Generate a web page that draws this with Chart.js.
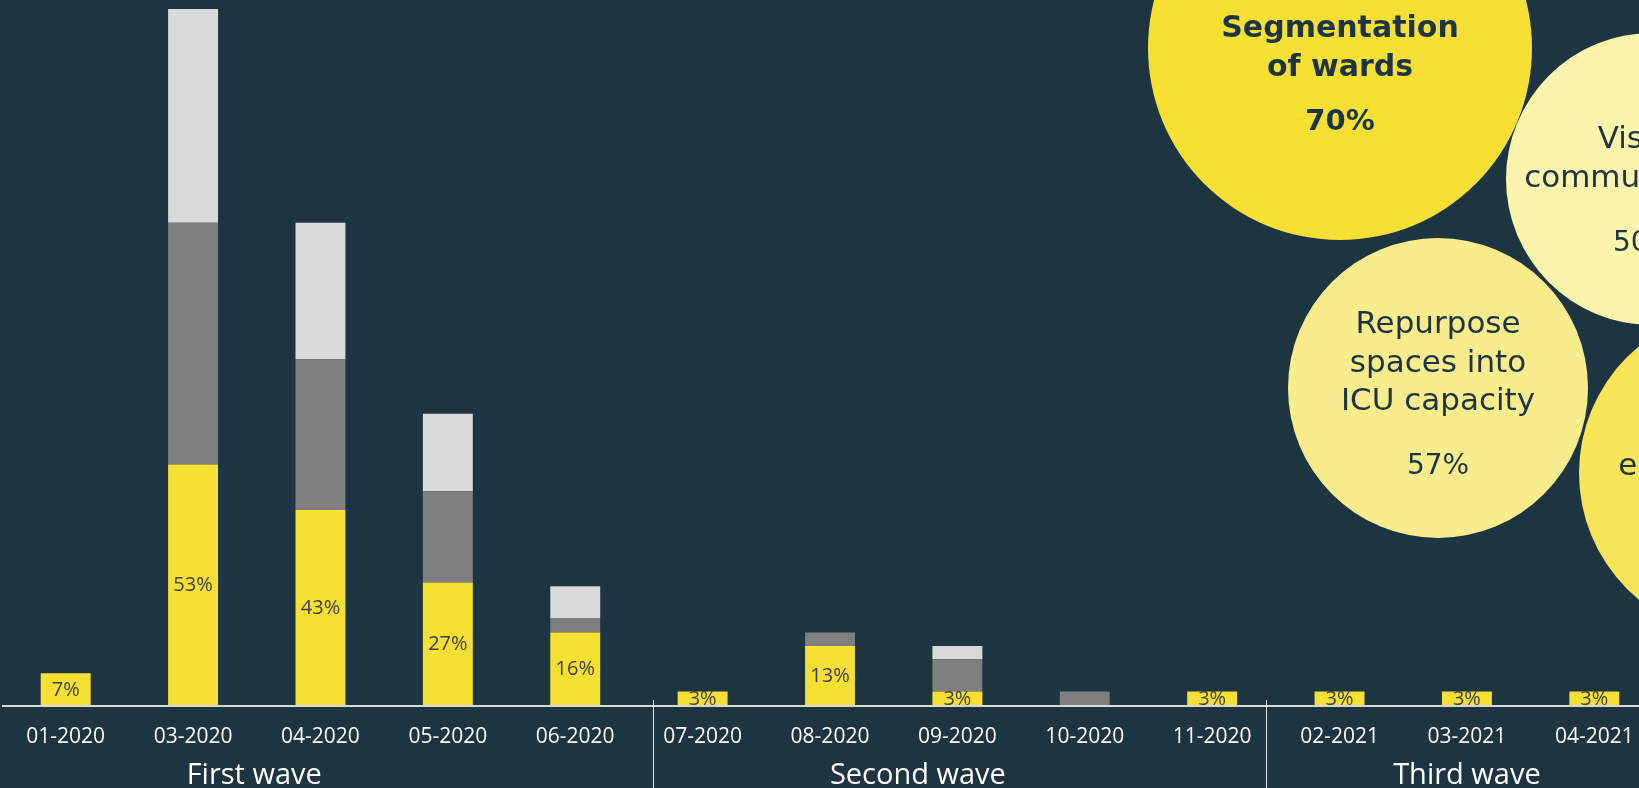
<!DOCTYPE html>
<html>
<head>
<meta charset="utf-8">
<script src="https://cdn.jsdelivr.net/npm/chart.js@4.4.0/dist/chart.umd.min.js"></script>
<style>
    html, body { margin: 0; padding: 0; background: #1c3541; overflow: hidden; }
    #wrap { position: relative; width: 1658px; height: 788px; }
</style>
</head>
<body>
<div id="wrap"><canvas id="chart"></canvas></div>
<script>
        // Months on the axis and the share of hospitals per month (%)
        const months = ['01-2020', '03-2020', '04-2020', '05-2020', '06-2020', '07-2020', '08-2020',
                        '09-2020', '10-2020', '11-2020', '02-2021', '03-2021', '04-2021'];
        const implemented = [7, 53, 43, 27, 16, 3, 13, 3, 0, 3, 3, 3, 3];
        const planned = [0, 53.3, 33.2, 20.1, 3.2, 0, 3, 7.1, 3, 0, 0, 0, 0];
        const considered = [0, 47.1, 30.1, 17.1, 7, 0, 0, 2.9, 0, 0, 0, 0, 0];

        // Waves grouping the months
        const waves = ['First wave', 'Second wave', 'Third wave'];

        // Measures shown as circles
        const measures = [['Segmentation', 'of wards'], ['Visual', 'communication'],
                          ['Repurpose', 'spaces into', 'ICU capacity'], ['Postpone', 'elective surgery']];
        const measureShares = [70, 50, 57, 60];

        // Layout only (pixels / fractional category index)
        const bubbleLayout = [
            { x: 1340, y: 48, r: 192, shift: 28, dx: 0 },
            { x: 1652, y: 179, r: 146, shift: 13, dx: -8 },
            { x: 1438, y: 388, r: 150, shift: 8, dx: 0 },
            { x: 1743, y: 473, r: 164, shift: 7, dx: 0 }
        ];
        const bubbleColors = ['#f7e034', '#fcf3ad', '#f9ec8c', '#f7e457'];
        const waveLabelAt = [1.48, 6.69, 11.0];
        const dividersAt = [4.61, 9.42];

        const BG = '#1c3541';
        const YELLOW = '#f7e034';

        function pxAt(scale, f) {
            const a = scale.getPixelForValue(0);
            const b = scale.getPixelForValue(1);
            return a + f * (b - a);
        }

        const overlay = {
            id: 'overlay',
            afterDatasetsDraw(chart) {
                const ctx = chart.ctx;
                const xs = chart.scales.x;
                const base = chart.scales.y.getPixelForValue(0);
                ctx.save();
                ctx.textAlign = 'center';
                ctx.textBaseline = 'middle';

                // value labels in the yellow segments
                ctx.font = '20px "Open Sans"';
                ctx.fillStyle = '#404040';
                chart.getDatasetMeta(0).data.forEach((bar, i) => {
                    if (!implemented[i]) return;
                    ctx.fillText(implemented[i] + '%', bar.x, (bar.y + bar.base) / 2 + 1);
                });

                // axis line
                ctx.strokeStyle = '#d9d9d9';
                ctx.lineWidth = 2;
                ctx.beginPath();
                ctx.moveTo(xs.left, base + 1);
                ctx.lineTo(chart.width, base + 1);
                ctx.stroke();

                // wave dividers
                ctx.strokeStyle = '#e6e6e6';
                ctx.lineWidth = 1;
                dividersAt.forEach(f => {
                    const x = Math.round(pxAt(xs, f)) + 0.5;
                    ctx.beginPath();
                    ctx.moveTo(x, base - 5);
                    ctx.lineTo(x, chart.height);
                    ctx.stroke();
                });

                // wave labels
                ctx.font = '29px "Open Sans"';
                ctx.fillStyle = '#ffffff';
                waves.forEach((w, i) => {
                    ctx.fillText(w, pxAt(xs, waveLabelAt[i]), 776);
                });

                // text in the circles
                ctx.fillStyle = BG;
                chart.getDatasetMeta(3).data.forEach((el, i) => {
                    const lines = measures[i];
                    const isBold = i === 0;
                    const step = 38.5;
                    const gap = isBold ? 55 : 65;
                    const total = (lines.length - 1) * step + gap;
                    const tx = el.x + bubbleLayout[i].dx;
                    let y = el.y - total / 2 + bubbleLayout[i].shift;
                    ctx.font = (isBold ? 'bold 30px' : '31px') + ' "DejaVu Sans"';
                    lines.forEach(t => { ctx.fillText(t, tx, y); y += step; });
                    y += gap - step;
                    ctx.font = (isBold ? 'bold 29px' : '28px') + ' "DejaVu Sans"';
                    ctx.fillText(measureShares[i] + '%', tx, y);
                });
                ctx.restore();
            }
        };

        const barStyle = {
            barPercentage: 0.392, categoryPercentage: 1, borderWidth: 0,
            order: 1, stack: 'main', grouped: false
        };

        new Chart(document.getElementById('chart'), {
            type: 'bar',
            data: {
                labels: months,
                datasets: [
                    Object.assign({ label: 'Implemented', data: implemented, backgroundColor: YELLOW }, barStyle),
                    Object.assign({ label: 'Planned', data: planned, backgroundColor: '#7f7f7f' }, barStyle),
                    Object.assign({ label: 'Considered', data: considered, backgroundColor: '#d9d9d9' }, barStyle),
                    {
                        type: 'bubble',
                        label: 'Measures',
                        data: bubbleLayout.map(b => ({ x: b.x, y: b.y, r: b.r })),
                        backgroundColor: bubbleColors,
                        borderWidth: 0,
                        xAxisID: 'xBubble',
                        yAxisID: 'yBubble',
                        clip: false,
                        order: 0
                    }
                ]
            },
            options: {
                responsive: true,
                maintainAspectRatio: false,
                animation: false,
                events: [],
                layout: { autoPadding: false, padding: { left: 2, right: 0, top: 0, bottom: 0 } },
                plugins: {
                    legend: { display: false },
                    tooltip: { enabled: false }
                },
                scales: {
                    x: {
                        stacked: true,
                        offset: true,
                        grid: { display: false, drawTicks: false },
                        border: { display: false },
                        ticks: {
                            color: '#ffffff',
                            font: { family: 'Open Sans', size: 21 },
                            padding: 19,
                            maxRotation: 0,
                            autoSkip: false
                        },
                        afterFit(scale) { scale.height = 83; }
                    },
                    y: { stacked: true, display: false, min: 0, max: 155.4 },
                    xBubble: { type: 'linear', axis: 'x', display: false, offset: false, min: 2, max: 1658 },
                    yBubble: { type: 'linear', axis: 'y', display: false, offset: false, reverse: true, min: 0, max: 705 }
                }
            },
            plugins: [overlay]
        });
</script>
</body>
</html>
